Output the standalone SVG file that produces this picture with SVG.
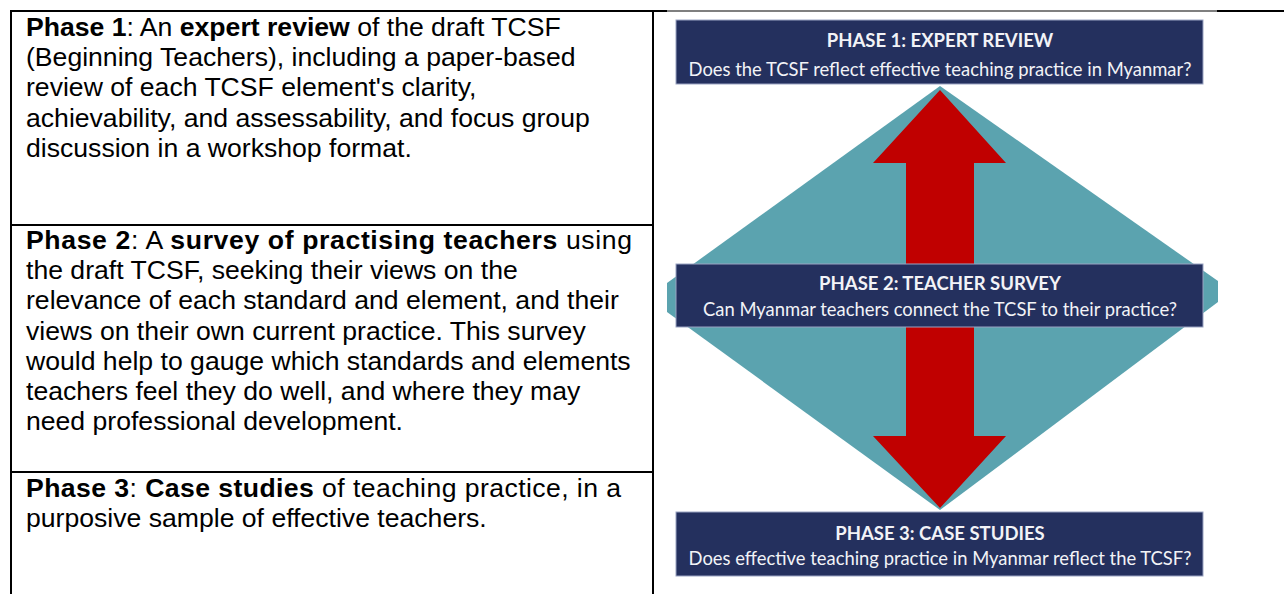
<svg xmlns="http://www.w3.org/2000/svg" width="1284" height="594" viewBox="0 0 1284 594">
  <style>
    .cell { font-family: "Liberation Sans", Arial, sans-serif; font-size: 26.6px; fill: #000; }
    .b { font-weight: bold; }
    .rule { stroke: #000; stroke-width: 2; fill: none; }
    .box { fill: #24305E; stroke: #9AA3C2; stroke-width: 1; }
    .head { font-family: Lato, "Open Sans", sans-serif; font-size: 18.5px; font-weight: bold; fill: #F2F3F7; text-anchor: middle; }
    .sub { font-family: Lato, "Open Sans", sans-serif; font-size: 18.4px; fill: #F2F3F7; text-anchor: middle; }
  </style>

  <!-- table grid -->
  <g id="table">
    <line class="rule" x1="10" y1="11" x2="667" y2="11"/>
    <line x1="667" y1="11" x2="1217" y2="11" stroke="#000" stroke-width="1.2"/>
    <line class="rule" x1="1217" y1="11" x2="1284" y2="11"/>
    <line class="rule" x1="11" y1="10" x2="11" y2="594"/>
    <line class="rule" x1="653" y1="10" x2="653" y2="594"/>
    <line class="rule" x1="11" y1="225" x2="653" y2="225"/>
    <line class="rule" x1="11" y1="472" x2="653" y2="472"/>
  </g>

  <!-- left column text -->
  <g id="phase1-text" class="cell">
    <text x="26" y="36"><tspan class="b">Phase 1</tspan>: An <tspan class="b">expert review</tspan> of the draft TCSF</text>
    <text x="26" y="66.2">(Beginning Teachers), including a paper-based</text>
    <text x="26" y="96.4">review of each TCSF element's clarity,</text>
    <text x="26" y="126.6">achievability, and assessability, and focus group</text>
    <text x="26" y="156.8">discussion in a workshop format.</text>
  </g>
  <g id="phase2-text" class="cell">
    <text x="26" y="249" textLength="606"><tspan class="b">Phase 2</tspan>: A <tspan class="b">survey of practising teachers</tspan> using</text>
    <text x="26" y="279.2">the draft TCSF, seeking their views on the</text>
    <text x="26" y="309.4">relevance of each standard and element, and their</text>
    <text x="26" y="339.6">views on their own current practice. This survey</text>
    <text x="26" y="369.8">would help to gauge which standards and elements</text>
    <text x="26" y="400">teachers feel they do well, and where they may</text>
    <text x="26" y="430.2">need professional development.</text>
  </g>
  <g id="phase3-text" class="cell">
    <text x="26" y="497" textLength="595"><tspan class="b">Phase 3</tspan>: <tspan class="b">Case studies</tspan> of teaching practice, in a</text>
    <text x="26" y="527.2">purposive sample of effective teachers.</text>
  </g>

  <!-- diagram background and arrow -->
  <g id="connectors">
    <polygon id="diamond" points="940,86 1218,281 1218,302 940,510 667,312 667,283" fill="#5BA3AF"/>
    <polygon id="arrow" points="940,90 1006,163 974,163 974,436 1006,436 940,508 873,436 906,436 906,163 873,163" fill="#C00000"/>
  </g>

  <g id="phase1-box">
    <rect class="box" x="676" y="20" width="527" height="64"/>
    <text class="head" x="940" y="47">PHASE 1: EXPERT REVIEW</text>
    <text class="sub" x="940" y="76">Does the TCSF reflect effective teaching practice in Myanmar?</text>
  </g>
  <g id="phase2-box">
    <rect class="box" x="676" y="264" width="527" height="63"/>
    <text class="head" x="940" y="290">PHASE 2: TEACHER SURVEY</text>
    <text class="sub" x="940" y="316">Can Myanmar teachers connect the TCSF to their practice?</text>
  </g>
  <g id="phase3-box">
    <rect class="box" x="676" y="512" width="527" height="64"/>
    <text class="head" x="940" y="540">PHASE 3: CASE STUDIES</text>
    <text class="sub" x="940" y="565">Does effective teaching practice in Myanmar reflect the TCSF?</text>
  </g>
</svg>
